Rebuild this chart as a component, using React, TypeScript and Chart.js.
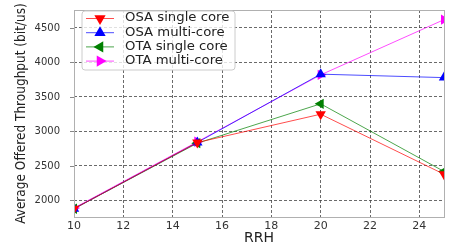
import React, { useEffect, useRef } from "react";
import { Chart, registerables } from "chart.js";

Chart.register(...registerables);

const rrh = [10, 15, 20, 25];
const osaSingle = [1880, 2840, 3250, 2380];
const osaMulti = [1880, 2840, 3830, 3780];
const otaSingle = [1880, 2830, 3400, 2420];
const otaMulti = [1890, 2850, 3820, 4620];
const xTicks = [10, 12, 14, 16, 18, 20, 22, 24];
const yTicks = [2000, 2500, 3000, 3500, 4000, 4500];

const seriesNames = ["OSA single core", "OSA multi-core", "OTA single core", "OTA multi-core"];
const seriesColors = ["#ff0000", "#0000ff", "#008000", "#ff00ff"];
const lineColors = ["rgba(255,0,0,0.7)", "rgba(0,0,255,0.7)", "rgba(0,128,0,0.7)", "rgba(255,0,255,0.7)"];
const rotations = [180, 0, -90, 90];
const seriesData = [osaSingle, osaMulti, otaSingle, otaMulti];

const FONT = "DejaVu Sans";

function tri(ctx: CanvasRenderingContext2D, x: number, y: number, r: number, rot: number, color: string) {
  ctx.save();
  ctx.translate(x, y);
  ctx.rotate((rot * Math.PI) / 180);
  ctx.beginPath();
  ctx.moveTo(0, -r);
  ctx.lineTo(r * 0.866, r * 0.5);
  ctx.lineTo(-r * 0.866, r * 0.5);
  ctx.closePath();
  ctx.fillStyle = color;
  ctx.fill();
  ctx.restore();
}

const framePlugin = {
  id: "frame",
  afterDraw(chart: any) {
    const { ctx, chartArea } = chart;
    ctx.save();
    ctx.strokeStyle = "#b0b0b0";
    ctx.lineWidth = 1;
    ctx.strokeRect(chartArea.left + 0.5, chartArea.top + 0.5, chartArea.right - chartArea.left, chartArea.bottom - chartArea.top);
    // small outward tick marks on the y axis
    ctx.strokeStyle = "#888";
    const ys = chart.scales.y;
    yTicks.forEach((v) => {
      const py = Math.round(ys.getPixelForValue(v)) + 0.5;
      ctx.beginPath();
      ctx.moveTo(chartArea.left - 4, py);
      ctx.lineTo(chartArea.left, py);
      ctx.stroke();
    });
    // legend
    const lx = 82, ly = 11, lw = 153, lh = 59;
    ctx.beginPath();
    const r = 3;
    ctx.moveTo(lx + r, ly);
    ctx.arcTo(lx + lw, ly, lx + lw, ly + lh, r);
    ctx.arcTo(lx + lw, ly + lh, lx, ly + lh, r);
    ctx.arcTo(lx, ly + lh, lx, ly, r);
    ctx.arcTo(lx, ly, lx + lw, ly, r);
    ctx.closePath();
    ctx.fillStyle = "rgba(255,255,255,0.8)";
    ctx.fill();
    ctx.strokeStyle = "#cccccc";
    ctx.stroke();
    ctx.font = `11.5px '${FONT}'`;
    ctx.textBaseline = "middle";
    ctx.textAlign = "left";
    seriesNames.forEach((name, i) => {
      const y = 18.5 + i * 14.2;
      ctx.strokeStyle = lineColors[i];
      ctx.lineWidth = 1;
      ctx.beginPath();
      ctx.moveTo(86, y);
      ctx.lineTo(114, y);
      ctx.stroke();
      tri(ctx, 100, y, 6.5, rotations[i], seriesColors[i]);
      ctx.save();
      ctx.translate(125, y);
      ctx.scale(1.15, 1);
      ctx.fillStyle = "#222";
      ctx.fillText(name, 0, 0);
      ctx.restore();
    });
    ctx.restore();
  },
};

export default function App() {
  const ref = useRef<HTMLCanvasElement>(null);
  useEffect(() => {
    document.body.style.margin = "0";
    const chart = new Chart(ref.current!, {
      type: "line",
      data: {
        datasets: seriesNames.map((name, i) => ({
          label: name,
          data: rrh.map((x, j) => ({ x, y: seriesData[i][j] })),
          borderColor: lineColors[i],
          backgroundColor: seriesColors[i],
          borderWidth: 1,
          pointStyle: "triangle",
          pointRotation: rotations[i],
          pointRadius: 6,
          pointBorderWidth: 0,
          pointBackgroundColor: seriesColors[i],
          pointBorderColor: seriesColors[i],
          tension: 0,
          clip: 0,
        })),
      },
      options: {
        animation: false,
        responsive: false,
        layout: { padding: { top: 6, right: 0, left: 0, bottom: 0 } },
        plugins: { legend: { display: false }, tooltip: { enabled: false } },
        scales: {
          x: {
            type: "linear",
            min: 10,
            max: 25,
            afterBuildTicks: (s: any) => {
              s.ticks = xTicks.map((v) => ({ value: v }));
            },
            afterFit: (s: any) => {
              s.height = 33;
            },
            grid: { color: "#444", lineWidth: 0.8, drawTicks: false },
            border: { display: false, dash: [3, 2] },
            ticks: { color: "#333", font: { family: FONT, size: 11 }, padding: 3, maxRotation: 0, callback: (v: any) => String(v) },
            title: { display: true, text: "RRH", color: "#222", font: { family: FONT, size: 14 }, padding: { top: 0, bottom: 3 } },
          },
          y: {
            min: 1760,
            max: 4760,
            afterBuildTicks: (s: any) => {
              s.ticks = yTicks.map((v) => ({ value: v }));
            },
            afterFit: (s: any) => {
              s.width = 74;
              s.paddingTop = Math.max(s.paddingTop - 10, 0);
              s.paddingBottom = Math.max(s.paddingBottom - 10, 0);
            },
            grid: { color: "#444", lineWidth: 0.8, drawTicks: false },
            border: { display: false, dash: [3, 2] },
            ticks: { color: "#333", font: { family: FONT, size: 10 }, padding: 14, callback: (v: any) => String(v) },
            title: {
              display: true,
              text: "Average Offered Throughput (bit/us)",
              color: "#222",
              font: { family: "DejaVu Sans Condensed", size: 13.5 },
              padding: { top: 13, bottom: 4 },
            },
          },
        },
      },
      plugins: [framePlugin],
    });
    return () => chart.destroy();
  }, []);
  return (
    <div style={{ position: "fixed", left: 0, top: 0, width: 450, height: 250, background: "#fff" }}>
      <canvas ref={ref} width={450} height={250} />
    </div>
  );
}
